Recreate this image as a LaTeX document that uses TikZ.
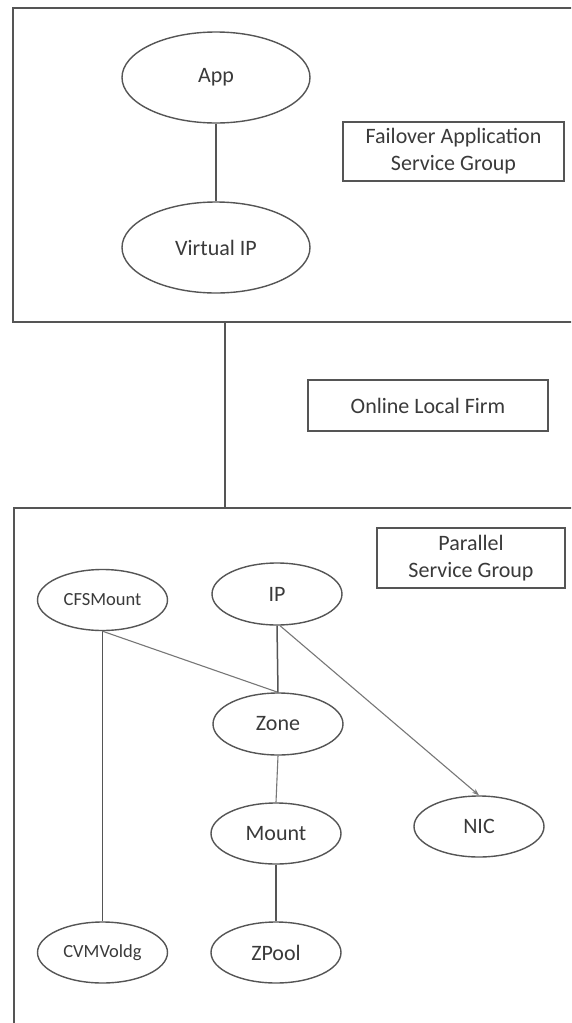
\documentclass[tikz,border=0pt]{standalone}
\usepackage{fontspec}
\setmainfont{Carlito}
\usetikzlibrary{shapes.geometric,arrows.meta}
\definecolor{ln}{HTML}{555555}
\definecolor{tx}{HTML}{3A3A3A}
\tikzset{
  grp/.style={draw=ln, line width=1.6pt, anchor=north west, inner sep=0pt},
  bignode/.style={ellipse, draw=ln, line width=1.4pt, inner sep=0pt, text=tx,
     font=\fontsize{22}{26}\selectfont},
  smallnode/.style={ellipse, draw=ln, line width=1.4pt, inner sep=0pt, text=tx,
     minimum width=130pt, minimum height=61pt, font=\fontsize{18.5}{22}\selectfont},
  lbl/.style={draw=ln, line width=1.4pt, inner sep=0pt, text=tx, align=center,
     font=\fontsize{22}{27}\selectfont},
  dark/.style={draw=ln, line width=1.5pt},
  light/.style={draw=ln!80, line width=1.1pt},
}
\begin{document}
\begin{tikzpicture}[x=1pt,y=-1pt]
\useasboundingbox (0,0) rectangle (571,1023);
\fill[white] (0,0) rectangle (571,1023);
\clip (0,0) rectangle (571,1023);
% group boxes
\node[grp, minimum width=600pt, minimum height=314pt] (topgrp) at (12,7) {};
\node[grp, minimum width=600pt, minimum height=560pt] (botgrp) at (13,507) {};
\coordinate (cx) at (225,0);
\draw[dark] (topgrp.south -| cx) -- (botgrp.north -| cx);
% labels
\node[lbl, minimum width=221pt, minimum height=59pt] (fail) at (453.5,151.5) {Failover Application\\Service Group};
\node[lbl, minimum width=240pt, minimum height=51pt] (olf) at (428,405.5) {Online Local Firm};
\node[lbl, minimum width=188pt, minimum height=60pt] (par) at (471,558) {Parallel\\Service Group};
% top group
\node[bignode, minimum width=188pt, minimum height=91pt] (app) at (216,77.5) {App};
\node[bignode, minimum width=188pt, minimum height=91pt] (vip) at (216,247.5) {Virtual IP};
\draw[dark] (app.south) -- (vip.north);
% bottom group
\node[smallnode] (cfs) at (102.5,600) {CFSMount};
\node[bignode, minimum width=130pt, minimum height=62pt] (ip) at (277,594) {IP};
\node[bignode, minimum width=130pt, minimum height=62pt] (zone) at (278,724) {Zone};
\node[bignode, minimum width=130pt, minimum height=61pt] (mount) at (276,833.5) {Mount};
\node[bignode, minimum width=130pt, minimum height=61pt] (nic) at (479,826.5) {NIC};
\node[bignode, minimum width=130pt, minimum height=61pt] (zpool) at (276,952.5) {ZPool};
\node[smallnode] (cvm) at (102.5,952.5) {CVMVoldg};
\draw[dark] (cfs.south) -- (cvm.north);
\draw[light] (cfs.south) -- (zone.north);
\draw[dark] (ip.south) -- (zone.north);
\draw[light, -{Stealth[length=7pt,width=5pt]}] (ip.south) ++(3,0) -- (nic.north);
\draw[light] (zone.south) -- (mount.north);
\draw[dark] (mount.south) -- (zpool.north);
\end{tikzpicture}
\end{document}
